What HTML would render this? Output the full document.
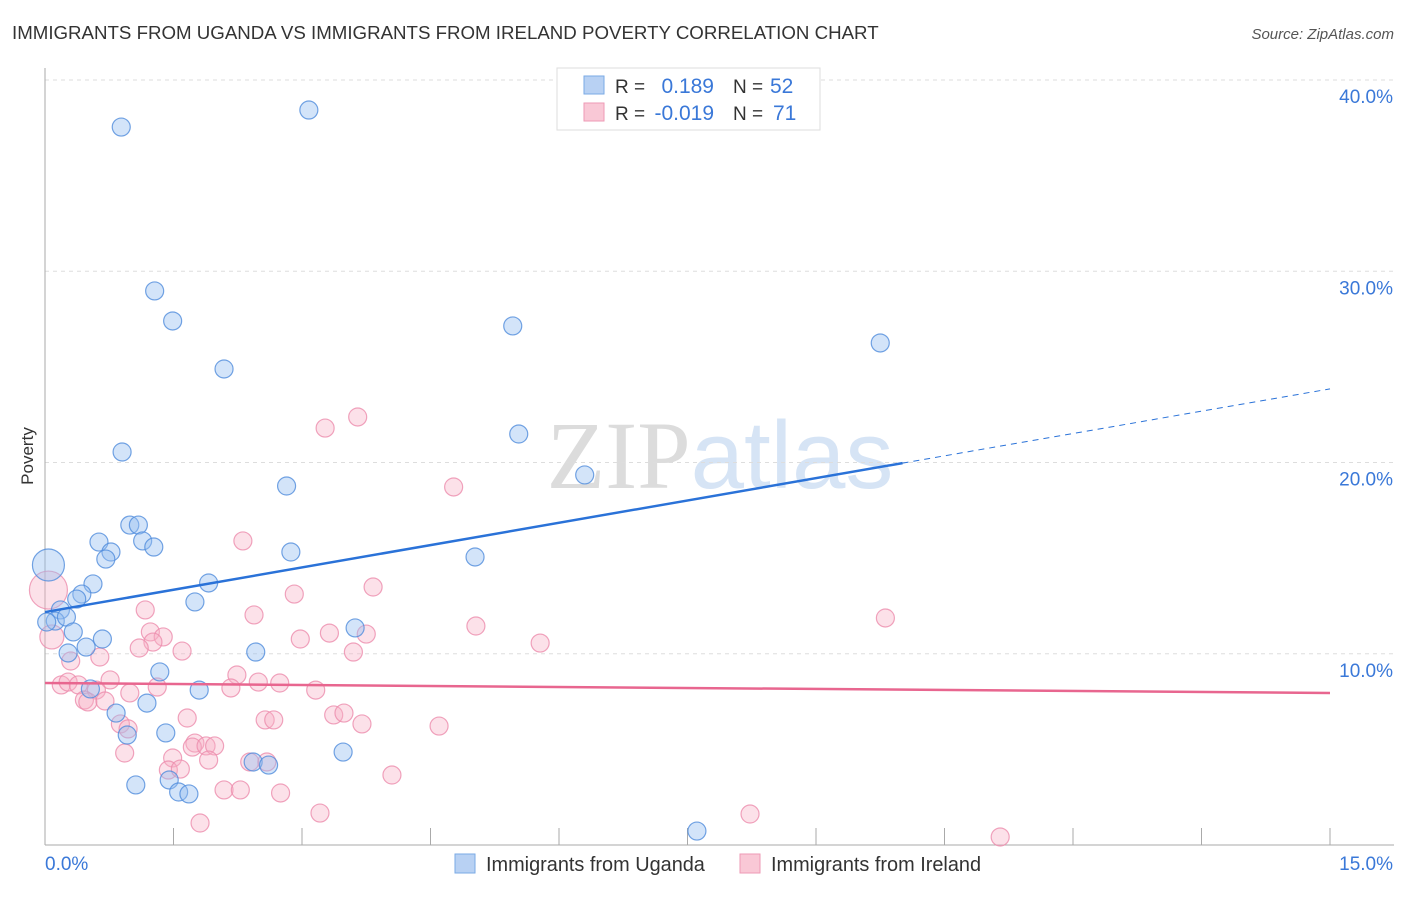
<!DOCTYPE html>
<html><head><meta charset="utf-8"><style>
body{margin:0;background:#fff;font-family:"Liberation Sans",sans-serif;}
svg text{font-family:"Liberation Sans",sans-serif;}
</style></head><body>
<svg id="chart" width="1406" height="892" xmlns="http://www.w3.org/2000/svg">
<text x="12" y="39" font-size="18.7" fill="#333">IMMIGRANTS FROM UGANDA VS IMMIGRANTS FROM IRELAND POVERTY CORRELATION CHART</text>
<text x="1394" y="39" font-size="15" fill="#555" text-anchor="end" font-style="italic">Source: ZipAtlas.com</text>
<text x="720" y="488" font-size="96" text-anchor="middle" fill="#e6e6e6"><tspan font-family="Liberation Serif" fill="#dcdcdc">ZIP</tspan><tspan fill="#d6e4f5">atlas</tspan></text>
<g id="grid"></g>
<g id="axes"></g>
<g id="marks"></g>
<text transform="translate(33,456) rotate(-90)" font-size="17" fill="#333" text-anchor="middle">Poverty</text>
<g>
<rect x="557" y="68" width="263" height="62" fill="#fff" stroke="#ddd"/>
<rect x="584" y="76" width="20" height="18" fill="#b8d1f3" stroke="#7aaae6"/>
<rect x="584" y="103" width="20" height="18" fill="#f9c8d6" stroke="#ee9ab5"/>
<text x="615" y="93" font-size="19" fill="#333">R =</text>
<text x="714" y="93" font-size="21" fill="#3a78d8" text-anchor="end">0.189</text>
<text x="733" y="93" font-size="19" fill="#333">N =</text>
<text x="770" y="93" font-size="21" fill="#3a78d8">52</text>
<text x="615" y="120" font-size="19" fill="#333">R =</text>
<text x="714" y="120" font-size="21" fill="#3a78d8" text-anchor="end">-0.019</text>
<text x="733" y="120" font-size="19" fill="#333">N =</text>
<text x="773" y="120" font-size="21" fill="#3a78d8">71</text>
</g>
<g>
<rect x="455" y="854" width="20" height="19" fill="#b8d1f3" stroke="#7aaae6"/>
<text x="486" y="871" font-size="19.9" fill="#333">Immigrants from Uganda</text>
<rect x="740" y="854" width="20" height="19" fill="#f9c8d6" stroke="#ee9ab5"/>
<text x="771" y="871" font-size="19.9" fill="#333">Immigrants from Ireland</text>
</g>
</svg>
<script>
const xTicks=[0,1.5,3,4.5,6,7.5,9,10.5,12,13.5,15];
const yTicks=[10,20,30,40];
const yTickLabels=["10.0%","20.0%","30.0%","40.0%"];
const xEndLabels=["0.0%","15.0%"];
const ugandaX=[0.89,3.08,1.28,1.49,2.09,0.90,5.46,9.75,5.53,6.30,2.82,0.99,1.09,0.63,1.14,1.27,0.77,0.71,2.87,5.02,0.56,1.91,0.43,0.37,1.75,0.18,0.12,0.02,0.25,0.33,3.62,0.27,0.48,0.67,2.46,1.34,0.53,1.80,1.19,0.83,0.96,1.41,3.48,2.43,2.61,1.06,1.45,1.56,1.68,7.61,0.04];
const ugandaY=[37.54,38.43,28.97,27.40,24.89,20.55,27.14,26.25,21.49,19.35,18.77,16.73,16.73,15.84,15.90,15.58,15.32,14.95,15.32,15.06,13.65,13.70,13.12,12.86,12.71,12.29,11.71,11.66,11.92,11.14,11.35,10.04,10.35,10.77,10.09,9.05,8.16,8.10,7.42,6.90,5.75,5.86,4.86,4.34,4.18,3.14,3.40,2.77,2.67,0.73,14.64];
const ugandaR=[9,9,9,9,9,9,9,9,9,9,9,9,9,9,9,9,9,9,9,9,9,9,9,9,9,9,9,9,9,9,9,9,9,9,9,9,9,9,9,9,9,9,9,9,9,9,9,9,9,9,16];
const irelandX=[3.65,3.27,4.77,2.31,3.83,2.91,1.17,2.44,9.81,5.03,1.23,1.38,1.26,3.32,3.75,2.98,5.78,1.10,3.60,1.60,0.64,0.30,2.24,2.74,3.16,0.76,0.19,0.27,0.39,0.60,0.99,1.31,2.17,2.49,0.46,0.50,0.70,1.66,2.57,2.67,3.37,3.49,3.70,4.60,0.88,0.97,0.93,1.49,1.75,1.72,1.88,1.98,1.91,2.39,2.59,1.44,1.58,4.05,2.09,2.28,2.75,3.21,8.23,1.81,11.15,0.04,0.08];
const irelandY=[22.38,21.80,18.72,15.90,13.49,13.12,12.29,12.03,11.87,11.45,11.14,10.88,10.61,11.08,11.03,10.77,10.56,10.30,10.09,10.14,9.83,9.62,8.89,8.47,8.10,8.63,8.37,8.52,8.37,8.10,7.95,8.26,8.21,8.52,7.58,7.48,7.53,6.64,6.54,6.54,6.80,6.90,6.33,6.22,6.33,6.07,4.81,4.55,5.33,5.12,5.18,5.18,4.44,4.34,4.34,3.92,3.97,3.66,2.88,2.88,2.72,1.67,1.62,1.15,0.42,13.33,10.88];
const irelandR=irelandX.map((v,i)=>i===65?19:(i===66?12:9));
const ugandaTrend=[12.18,23.85];
const ugandaTrendSolidEnd=10.01;
const irelandTrend=[8.47,7.95];

const NS="http://www.w3.org/2000/svg";
const X0=45,X1=1330,Y0=845,Y40=80;
const sx=v=>X0+(v/15)*(X1-X0);
const sy=v=>Y0-(v/40)*(Y0-Y40);
function mk(tag,attrs,parent){const e=document.createElementNS(NS,tag);for(const k in attrs)e.setAttribute(k,attrs[k]);parent.appendChild(e);return e;}
const grid=document.getElementById('grid'),axes=document.getElementById('axes'),marks=document.getElementById('marks');
yTicks.forEach((t,i)=>{
  const l=mk('line',{x1:X0,x2:1394,y1:sy(t),y2:sy(t),stroke:'#ddd','stroke-dasharray':'4,4'},grid);
  
  
  const tx=mk('text',{x:1393,y:sy(t)+23,'font-size':19,fill:'#3a78d8','text-anchor':'end'},axes);
  tx.textContent=yTickLabels[i];
  
  
});
const ya=mk('line',{x1:X0,x2:X0,y1:68,y2:Y0,stroke:'#aaa'},axes);


const xa=mk('line',{x1:X0,x2:1394,y1:Y0,y2:Y0,stroke:'#aaa'},axes);


xTicks.slice(1).forEach(t=>{
  const l=mk('line',{x1:sx(t),x2:sx(t),y1:Y0-17,y2:Y0,stroke:'#aaa'},axes);
  
  
});
const xl0=mk('text',{x:45,y:870,'font-size':19,fill:'#3a78d8'},axes);xl0.textContent=xEndLabels[0];


const xl1=mk('text',{x:1393,y:870,'font-size':19,fill:'#3a78d8','text-anchor':'end'},axes);xl1.textContent=xEndLabels[1];


function pts(xs,ys,rs,fill,stroke,name){xs.forEach((x,i)=>{
  const c=mk('circle',{cx:sx(x),cy:sy(ys[i]),r:rs[i],fill:fill,stroke:stroke,'stroke-width':1.2},marks);
  
  
});}
pts(irelandX,irelandY,irelandR,'rgba(246,175,198,0.38)','rgba(236,140,172,0.8)','ireland-point');
pts(ugandaX,ugandaY,ugandaR,'rgba(150,190,240,0.42)','rgba(80,140,220,0.8)','uganda-point');
const slope=(ugandaTrend[1]-ugandaTrend[0])/15;
const bl=mk('line',{x1:sx(0),y1:sy(ugandaTrend[0]),x2:sx(ugandaTrendSolidEnd),y2:sy(ugandaTrend[0]+slope*ugandaTrendSolidEnd),stroke:'#2a72d8','stroke-width':2.5},marks);


const bd=mk('line',{x1:sx(ugandaTrendSolidEnd),y1:sy(ugandaTrend[0]+slope*ugandaTrendSolidEnd),x2:sx(15),y2:sy(ugandaTrend[1]),stroke:'#2a72d8','stroke-width':1,'stroke-dasharray':'6,5'},marks);


const pl=mk('line',{x1:sx(0),y1:sy(irelandTrend[0]),x2:sx(15),y2:sy(irelandTrend[1]),stroke:'#e8668f','stroke-width':2.5},marks);


</script>
</body></html>
